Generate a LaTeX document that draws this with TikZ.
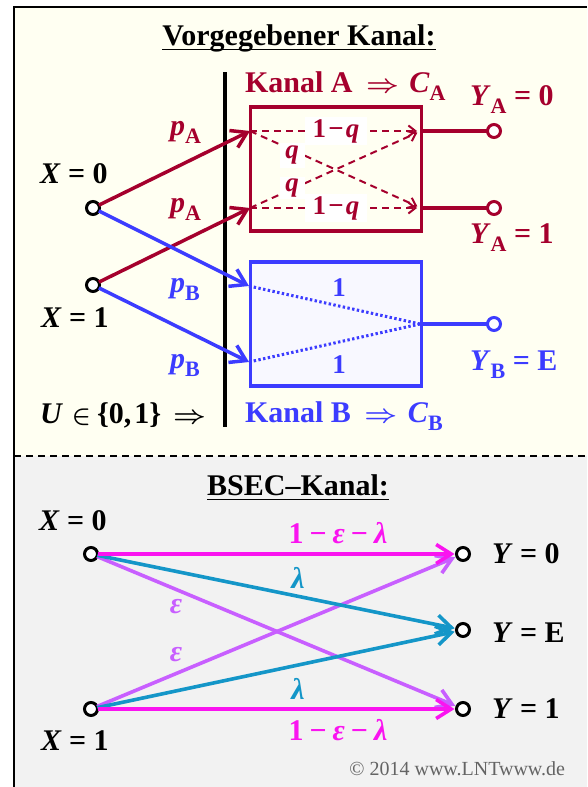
\documentclass[tikz,border=0pt]{standalone}
\usepackage{fontspec}
\usepackage{graphicx}
\setmainfont{Liberation Serif}
\usetikzlibrary{arrows.meta}
\definecolor{kred}{RGB}{165,0,45}
\definecolor{kblue}{RGB}{60,60,255}
\definecolor{bsmag}{RGB}{250,20,240}
\definecolor{bsvio}{RGB}{200,95,255}
\definecolor{bsteal}{RGB}{20,150,200}
\definecolor{topbg}{RGB}{255,255,242}
\definecolor{botbg}{RGB}{242,242,242}
\definecolor{boxbfill}{RGB}{248,248,255}
\definecolor{cpgray}{RGB}{100,100,100}
\newcommand\fsTitle{\fontsize{30}{30}\selectfont}
\newcommand\fsBig{\fontsize{30}{30}\selectfont}
\newcommand\fsMid{\fontsize{30}{30}\selectfont}
\newcommand\fsSmall{\fontsize{27}{27}\selectfont}
\newcommand\subsc[1]{\raisebox{-0.28em}{\fontsize{22}{22}\selectfont\upshape #1}}
\newcommand\eqsp{\hspace{0.25em}=\hspace{0.25em}}
\newcommand\mnsp{\hspace{0.2em}\textminus\hspace{0.2em}}
\newcommand\tmns{\hspace{0.08em}\textminus\hspace{0.08em}}
\newcommand\Rarr{\scalebox{1.15}[1]{\boldmath$\Rightarrow$}}
\begin{document}
\begin{tikzpicture}[x=1pt,y=-1pt,
  every node/.style={inner sep=0pt, outer sep=0pt, font=\bfseries},
  circ/.style={circle, draw=#1, fill=white, line width=3pt, minimum size=13pt, inner sep=0pt},
  conn/.style={line width=3.5pt, -{Straight Barb[length=15pt,width=19pt]}},
  inner/.style={line width=2pt, dash pattern=on 7pt off 5pt, -{Straight Barb[length=7pt,width=11pt,line width=2pt]}},
  whitelbl/.style={fill=white, font=\bfseries\fsSmall},
  chbox/.style={draw=#1, line width=3.6pt, minimum width=171pt, minimum height=124pt}
]
\useasboundingbox (0,0) rectangle (587,787);
\fill[topbg] (14,7) rectangle (587,456);
\fill[botbg] (14,456) rectangle (587,787);
\draw[line width=2pt] (14,787) -- (14,7) -- (587,7);
\draw[line width=1.8pt, dash pattern=on 7pt off 5pt] (14,456) -- (587,456);

% ---------- top part ----------
\node[anchor=base, font=\bfseries\fsTitle] (t1) at (299,45) {Vorgegebener Kanal:};
\draw[line width=1.7pt] ([yshift=-4.5pt]t1.base west) -- ([yshift=-4.5pt]t1.base east);

\draw[line width=3.4pt] (225,72) -- (225,427);

\node[chbox=kred] (boxA) at (336,169) {};
\node[chbox=kblue, fill=boxbfill] (boxB) at (336,324) {};

\coordinate (ai0) at (250,131);
\coordinate (ai1) at (250,208);
\coordinate (ao0) at (421,131);
\coordinate (ao1) at (421,208);
\coordinate (bi0) at (249,286);
\coordinate (bi1) at (249,362);
\coordinate (bm) at (420,324);

\node[circ=black] (x0) at (93,208) {};
\node[circ=black] (x1) at (93,285) {};
\node[circ=kred] (ya0) at (494,131) {};
\node[circ=kred] (ya1) at (494,208) {};
\node[circ=kblue] (yb) at (494,324) {};

% inner channel A
\draw[inner, kred, shorten >=4pt] (ai0) -- (ao0);
\draw[inner, kred, shorten >=4pt] (ai1) -- (ao1);
\draw[inner, kred, shorten >=4pt] (ai0) -- (ao1);
\draw[inner, kred, shorten >=4pt] (ai1) -- (ao0);
\node[whitelbl, text=kred, minimum width=62pt, minimum height=28pt] (l1q0) at (336,131) {1\tmns\textit{q}};
\node[whitelbl, text=kred, minimum width=25pt, minimum height=25pt] (lq0) at (292,155) {\textit{q}};
\node[whitelbl, text=kred, minimum width=25pt, minimum height=22pt] (lq1) at (292,188) {\textit{q}};
\node[whitelbl, text=kred, minimum width=62pt, minimum height=28pt] (l1q1) at (336,208) {1\tmns\textit{q}};

% inner channel B
\draw[kblue, line width=3pt, dash pattern=on 2.4pt off 2.4pt] (bi0) -- (bm);
\draw[kblue, line width=3pt, dash pattern=on 2.4pt off 2.4pt] (bi1) -- (bm);
\node[text=kblue, font=\bfseries\fsSmall] (lb0) at (339,288) {1};
\node[text=kblue, font=\bfseries\fsSmall] (lb1) at (339,365) {1};

% outputs
\draw[kred, line width=3.5pt] (ao0) -- (ya0);
\draw[kred, line width=3.5pt] (ao1) -- (ya1);
\draw[kblue, line width=3.5pt] (bm) -- (yb);

% input connectors
\draw[conn, kred] (x0) -- (ai0);
\draw[conn, kred] (x1) -- (ai1);
\draw[conn, kblue] (x0) -- (bi0);
\draw[conn, kblue] (x1) -- (bi1);

% labels
\node[anchor=base west, font=\bfseries\fsBig] (lx0) at (40,183) {\textit{X}\eqsp0};
\node[anchor=base west, font=\bfseries\fsBig] (lx1) at (41,327) {\textit{X}\eqsp1};
\node[anchor=base west, font=\bfseries\fsBig, text=kred] (pa0) at (170,135) {\textit{p}\subsc{A}};
\node[anchor=base west, font=\bfseries\fsBig, text=kred] (pa1) at (170,212) {\textit{p}\subsc{A}};
\node[anchor=base west, font=\bfseries\fsBig, text=kblue] (pb0) at (170,292) {\textit{p}\subsc{B}};
\node[anchor=base west, font=\bfseries\fsBig, text=kblue] (pb1) at (170,368) {\textit{p}\subsc{B}};
\node[anchor=base west, font=\bfseries\fsMid, text=kred] (ka) at (245,92) {Kanal A\hspace{0.45em}\Rarr\hspace{0.35em}\textit{C}\subsc{A}};
\node[anchor=base west, font=\bfseries\fsMid, text=kblue] (kb) at (245,422) {Kanal B\hspace{0.45em}\Rarr\hspace{0.35em}\textit{C}\subsc{B}};
\node[anchor=base west, font=\bfseries\fsBig, text=kred] (lya0) at (470,105) {\textit{Y}\subsc{A}\eqsp0};
\node[anchor=base west, font=\bfseries\fsBig, text=kred] (lya1) at (470,243) {\textit{Y}\subsc{A}\eqsp1};
\node[anchor=base west, font=\bfseries\fsBig, text=kblue] (lyb) at (470,370) {\textit{Y}\subsc{B}\eqsp E};
\node[anchor=base west, font=\bfseries\fsMid] (lu) at (40,423) {\textit{U}\hspace{0.3em}{\boldmath$\in$}\hspace{0.2em}\{0,\hspace{0.1em}1\}\hspace{0.4em}\Rarr};

% ---------- bottom part ----------
\node[anchor=base, font=\bfseries\fsTitle] (t2) at (298,495) {BSEC\textendash Kanal:};
\draw[line width=1.7pt] ([yshift=-4.5pt]t2.base west) -- ([yshift=-4.5pt]t2.base east);

\node[circ=black] (bx0) at (91,554) {};
\node[circ=black] (bx1) at (91,709) {};
\node[circ=black] (by0) at (463,554) {};
\node[circ=black] (byE) at (463,630) {};
\node[circ=black] (by1) at (463,709) {};

\draw[conn, line width=3.6pt, bsvio, shorten >=2pt] (bx0) -- (by1);
\draw[conn, line width=3.6pt, bsvio, shorten >=2pt] (bx1) -- (by0);
\draw[conn, line width=3.6pt, bsteal, shorten >=2pt] (bx0) -- (byE);
\draw[conn, line width=3.6pt, bsteal, shorten >=2pt] (bx1) -- (byE);
\draw[conn, line width=3.6pt, bsmag, shorten >=2pt] (bx0) -- (by0);
\draw[conn, line width=3.6pt, bsmag, shorten >=2pt] (bx1) -- (by1);

\node[anchor=base west, font=\bfseries\fsBig] (lbx0) at (39,530) {\textit{X}\eqsp0};
\node[anchor=base west, font=\bfseries\fsBig] (lbx1) at (41,750) {\textit{X}\eqsp1};
\node[anchor=base west, font=\bfseries\fsBig] (lby0) at (492,563) {\textit{Y}\eqsp0};
\node[anchor=base west, font=\bfseries\fsBig] (lbyE) at (492,642) {\textit{Y}\eqsp E};
\node[anchor=base west, font=\bfseries\fsBig] (lby1) at (492,718) {\textit{Y}\eqsp1};

\node[anchor=base, font=\bfseries\fsBig, text=bsmag] (m0) at (338,543) {1\mnsp\textit{ε}\mnsp\textit{λ}};
\node[anchor=base, font=\bfseries\fsBig, text=bsmag] (m1) at (338,740) {1\mnsp\textit{ε}\mnsp\textit{λ}};
\node[font=\bfseries\fsBig, text=bsteal] (la0) at (298,578) {\textit{λ}};
\node[font=\bfseries\fsBig, text=bsteal] (la1) at (298,689) {\textit{λ}};
\node[font=\bfseries\fsBig, text=bsvio] (le0) at (176,607) {\textit{ε}};
\node[font=\bfseries\fsBig, text=bsvio] (le1) at (176,655) {\textit{ε}};

\node[anchor=base east, font=\mdseries\fontsize{20}{20}\selectfont, text=cpgray] (cp) at (565,775) {© 2014 www.LNTwww.de};
\end{tikzpicture}
\end{document}
